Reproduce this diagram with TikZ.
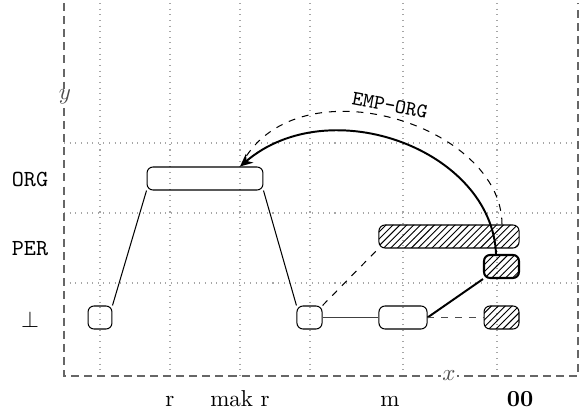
\documentclass[tikz,border=0pt]{standalone}
\usetikzlibrary{patterns,arrows.meta,calc}
\begin{document}
\begin{tikzpicture}[x=0.4348pt,y=-0.4348pt,
  frame/.style={gray!80!black,dashed,line width=0.6pt,dash pattern=on 3.5pt off 2.2pt},
  gridl/.style={gray!70,dotted,line width=0.45pt},
  box/.style={draw,rounded corners=2.6pt,inner sep=0pt,minimum height=10pt,line width=0.45pt},
  hatch/.style={box,pattern=north east lines},
  rowlab/.style={font=\ttfamily,anchor=center},
  axlab/.style={text=black!70,fill=white,inner sep=0.5pt},
  collab/.style={anchor=base},
  thickln/.style={line width=0.85pt},
  thinln/.style={line width=0.45pt}]
\useasboundingbox (0,0) rectangle (580,411);
% grid
\foreach \gx in {100,170,240,310,403,497} \draw[gridl] (\gx,3) -- (\gx,376);
\foreach \gy in {143,213,283} \draw[gridl] (64,\gy) -- (578,\gy);
% frame
\draw[frame] (64,3) -- (64,376) -- (578,376) -- (578,3);
\node[axlab] (ylab) at (65,97) {$y$};
\node[axlab] (xlab) at (449,376) {$x$};
% row labels
\node[rowlab] (lorg) at (30,179) {ORG};
\node[rowlab] (lper) at (30,249) {PER};
\node[anchor=center] (lbot) at (30,320) {$\bot$};
% column labels
\node[collab] (c1) at (170,407) {r};
\node[collab] (c2) at (240,407) {mak r};
\node[collab] (c3) at (390,407) {m};
\node[collab] (c4) at (520,407) {\textbf{00}};
% nodes
\node[box,minimum width=10.4pt] (b1) at (100,317.5) {};
\node[box,minimum width=50.4pt] (org) at (205,178.5) {};
\node[box,minimum width=10.9pt] (b2) at (309.5,317.5) {};
\node[box,minimum width=20.9pt] (mm) at (403,317.5) {};
\node[hatch,minimum width=15.2pt] (h3) at (501.5,317.5) {};
\node[hatch,minimum width=60.9pt] (per) at (449,236.5) {};
\node[hatch,minimum width=15.2pt,line width=0.9pt] (thk) at (501.5,266.5) {};
% edges
\draw[thinln] (b1.north east) -- (org.south west);
\draw[thinln] (org.south east) -- (b2.north west);
\draw[thinln,dashed] (b2.north east) -- (per.south west);
\draw[thinln,black!75] (b2.east) -- (mm.west);
\draw[thickln] (mm.east) -- (thk.south west);
\draw[thinln,dashed,black!70] (mm.east) -- (h3.west);
% curves
\draw[thinln,dashed] ($(per.north)+(53,0)$) .. controls (502,125) and (300,62) .. ($(org.north)+(38,-5)$);
\draw[thickln,-{Stealth[length=5.5pt,width=5pt]}] ($(thk.north)+(-5.5,0)$) .. controls (492,150) and (330,90) .. ($(org.north)+(35,0)$);
\node[font=\small\ttfamily,rotate=-10.5] (emp) at (390,105) {EMP-ORG};
\end{tikzpicture}
\end{document}
